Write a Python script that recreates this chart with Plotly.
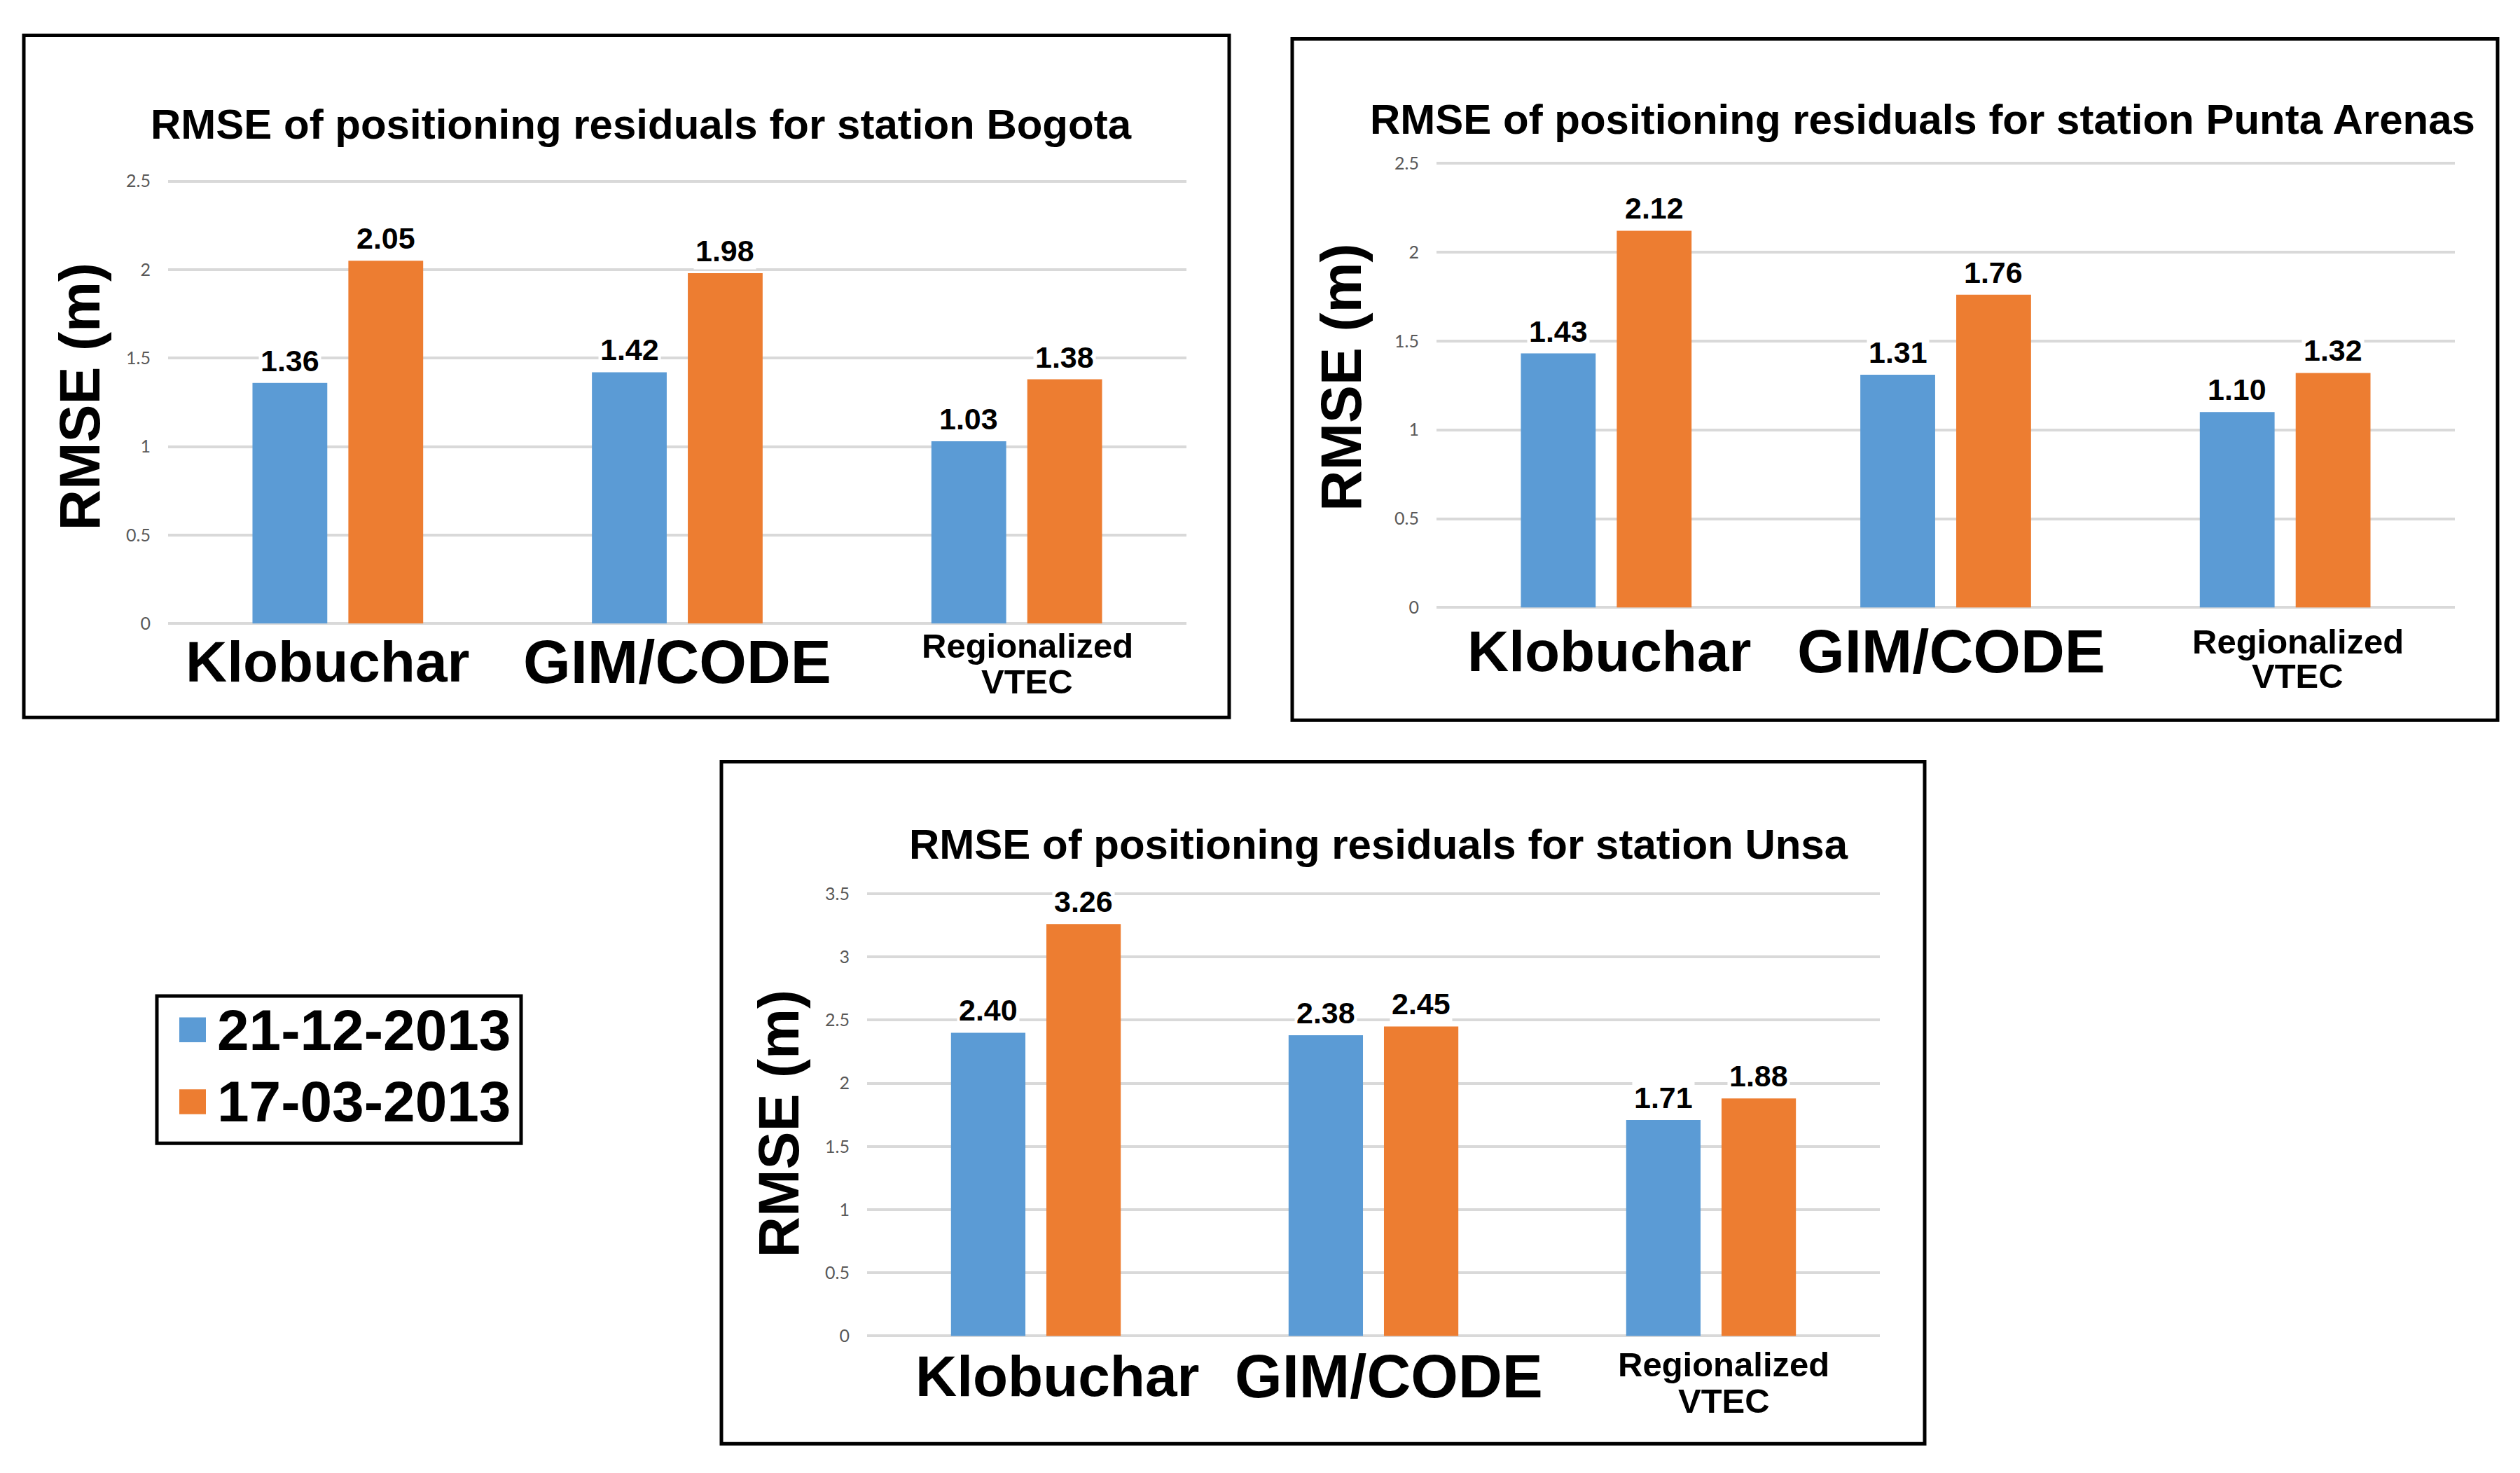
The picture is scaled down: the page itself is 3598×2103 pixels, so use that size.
import plotly.graph_objects as go

# ---------------- data ----------------
categories = ["Klobuchar", "GIM/CODE", "Regionalized VTEC"]
series_names = ["21-12-2013", "17-03-2013"]
series_colors = ["#5B9BD5", "#ED7D31"]
stations = ["Bogota", "Punta Arenas", "Unsa"]

bogota_dec = [1.36, 1.42, 1.03]
bogota_mar = [2.05, 1.98, 1.38]
punta_dec = [1.43, 1.31, 1.10]
punta_mar = [2.12, 1.76, 1.32]
unsa_dec = [2.40, 2.38, 1.71]
unsa_mar = [3.26, 2.45, 1.88]

y_max = [2.5, 2.5, 3.5]
y_tick_step = 0.5
y_title = "RMSE (m)"
title_prefix = "RMSE of positioning residuals for station "

values = [(bogota_dec, bogota_mar), (punta_dec, punta_mar), (unsa_dec, unsa_mar)]

# ---------------- layout geometry (pixels) ----------------
W, H = 3598, 2103
FONT = "Liberation Sans, Arial, sans-serif"
TICKFONT = "Lato, Calibri, sans-serif"

panels = [
    dict(box=(34, 37, 1755, 1024), px=(240, 1694), ptop=248, pzero=888,
         title=(916, 166), ylab=(114, 560), cat_y=943, reg_y=(920, 972),
         xshift=(-15, 0, 15)),
    dict(box=(1845, 42, 3566, 1028), px=(2051, 3505), ptop=222, pzero=865,
         title=(2745, 159), ylab=(1915, 532), cat_y=928, reg_y=(914, 964),
         xshift=(4, 8, 18)),
    dict(box=(1030, 1088, 2748, 2075), px=(1238, 2684), ptop=1279, pzero=1919,
         title=(1968, 1208), ylab=(1112, 1612), cat_y=1977, reg_y=(1960, 2013),
         xshift=(30, 22, 18)),
]
cat_font_sizes = [82, 87, 49]

BARGAP = 0.435
BARGROUPGAP = 0.22
EXT = 1.004  # tiny range extension so top gridline is drawn


def fx(p):
    return p / W


def fy(p):
    return 1 - p / H


fig = go.Figure()
annotations = []
shapes = []
layout_axes = {}

for i, (pn, (dec, mar)) in enumerate(zip(panels, values)):
    n = "" if i == 0 else str(i + 1)
    xa, ya = "x" + n, "y" + n
    for j, (vals, name, col) in enumerate(zip((dec, mar), series_names, series_colors)):
        fig.add_trace(go.Bar(
            x=categories, y=vals, name=name, marker=dict(color=col, line=dict(width=0)),
            xaxis=xa, yaxis=ya, showlegend=False, offsetgroup=str(j)))

    top_px = pn["pzero"] - (pn["pzero"] - pn["ptop"]) * EXT
    layout_axes["xaxis" + n] = dict(
        domain=[fx(pn["px"][0]), fx(pn["px"][1])], anchor=ya, type="category",
        categoryorder="array", categoryarray=categories, range=[-0.5, 2.5],
        showticklabels=False, showgrid=False, zeroline=False, showline=False)
    layout_axes["yaxis" + n] = dict(
        domain=[fy(pn["pzero"]), fy(top_px)], anchor=xa,
        range=[0, y_max[i] * EXT], tick0=0, dtick=y_tick_step,
        showgrid=True, gridcolor="#D9D9D9", gridwidth=3.5,
        zeroline=True, zerolinecolor="#D9D9D9", zerolinewidth=3.5,
        showline=False, ticks="", ticklabelstandoff=24,
        tickfont=dict(family=TICKFONT, size=25, color="#595959"))

    # panel frame
    bx0, by0, bx1, by1 = pn["box"]
    shapes.append(dict(type="rect", xref="paper", yref="paper",
                       x0=fx(bx0), x1=fx(bx1), y0=fy(by1), y1=fy(by0),
                       line=dict(color="black", width=5), fillcolor="rgba(0,0,0,0)"))
    # title
    annotations.append(dict(text="<b>" + title_prefix + stations[i] + "</b>",
                            xref="paper", yref="paper", x=fx(pn["title"][0]), y=fy(pn["title"][1]),
                            xanchor="center", yanchor="middle", showarrow=False,
                            font=dict(family=FONT, size=60, color="black")))
    # y-axis title
    annotations.append(dict(text="<b>" + y_title + "</b>", textangle=-90,
                            xref="paper", yref="paper", x=fx(pn["ylab"][0]), y=fy(pn["ylab"][1]),
                            xanchor="center", yanchor="middle", showarrow=False,
                            font=dict(family=FONT, size=81, color="black")))
    # category labels
    for k, cat in enumerate(categories):
        words = cat.split(" ")
        if len(words) == 1:
            lines = [(cat, pn["cat_y"])]
        else:
            lines = [(words[0], pn["reg_y"][0]), (" ".join(words[1:]), pn["reg_y"][1])]
        for txt, yy in lines:
            annotations.append(dict(text="<b>" + txt + "</b>", xref=xa, yref="paper",
                                    x=k, y=fy(yy), xshift=pn["xshift"][k],
                                    xanchor="center", yanchor="middle", showarrow=False,
                                    font=dict(family=FONT, size=cat_font_sizes[k], color="black")))
    # data labels
    off = (1 - BARGAP) / 4
    for j, vals in enumerate((dec, mar)):
        sign = -1 if j == 0 else 1
        for k, v in enumerate(vals):
            annotations.append(dict(text="<b>%.2f</b>" % v, xref=xa, yref=ya,
                                    x=k + sign * off, y=v, yshift=5,
                                    xanchor="center", yanchor="bottom", showarrow=False,
                                    bgcolor="white", borderpad=2,
                                    font=dict(family=FONT, size=43, color="black")))

# ---------------- legend (drawn manually) ----------------
shapes.append(dict(type="rect", xref="paper", yref="paper",
                   x0=fx(224), x1=fx(744), y0=fy(1640), y1=fy(1427),
                   line=dict(color="black", width=5), fillcolor="white"))
legend_rows = [1476, 1580]
for name, col, ry in zip(series_names, series_colors, legend_rows):
    shapes.append(dict(type="rect", xref="paper", yref="paper",
                       x0=fx(256), x1=fx(294), y0=fy(ry + 18), y1=fy(ry - 18),
                       line=dict(width=0), fillcolor=col))
    annotations.append(dict(text="<b>" + name + "</b>", xref="paper", yref="paper",
                            x=fx(308), y=fy(ry), xanchor="left", yanchor="middle",
                            showarrow=False, font=dict(family=FONT, size=82, color="black")))

fig.update_layout(
    width=W, height=H, autosize=False,
    margin=dict(l=0, r=0, t=0, b=0, pad=0),
    paper_bgcolor="white", plot_bgcolor="white",
    barmode="group", bargap=BARGAP, bargroupgap=BARGROUPGAP,
    showlegend=False,
    annotations=annotations, shapes=shapes,
    font=dict(family=FONT),
    **layout_axes,
)

fig.write_html("out.html", config={"displayModeBar": False},
               post_script="document.body.style.margin='0';")
